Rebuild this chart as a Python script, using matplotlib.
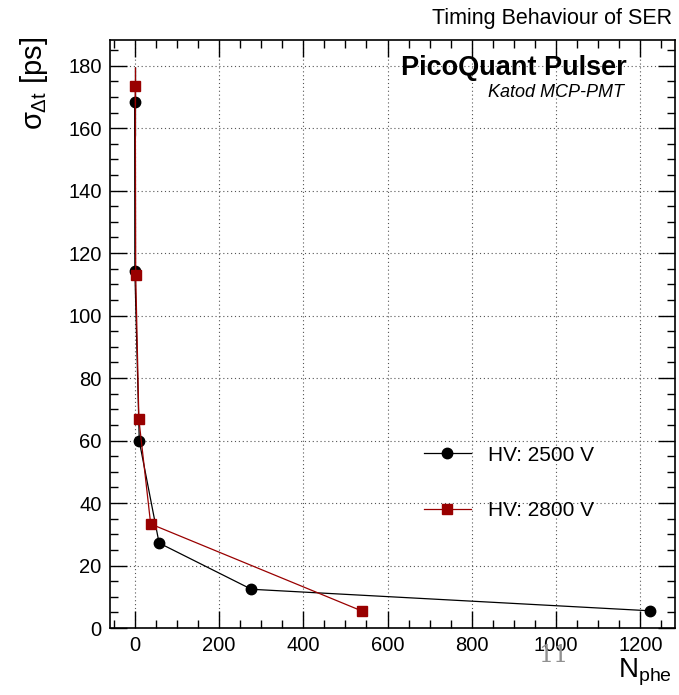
import matplotlib
matplotlib.use('Agg')
import matplotlib.pyplot as plt
from matplotlib.ticker import MultipleLocator

plt.rcParams['font.family'] = ['Liberation Sans', 'DejaVu Sans']
plt.rcParams['mathtext.fontset'] = 'custom'
plt.rcParams['mathtext.rm'] = 'Liberation Sans'
plt.rcParams['mathtext.it'] = 'Liberation Sans'

# data
nphe_2500 = [0, 0.5, 11, 58, 277, 1224]
sigma_2500 = [168.5, 114.3, 59.8, 27.2, 12.4, 5.5]
err_2500 = [11, 1.5, 0.8, 0.6, 0.4, 0.3]

nphe_2800 = [1.5, 2.5, 10, 38, 540]
sigma_2800 = [173.5, 113.0, 66.8, 33.3, 5.4]
err_2800 = [6, 1.5, 0.8, 0.6, 0.3]

red = '#990000'

fig = plt.figure(figsize=(6.79, 6.95), dpi=100)
ax = fig.add_axes([0.162, 0.0964, 0.832, 0.846])

# error bars without legend entry, then the lines with markers
ax.errorbar(nphe_2500, sigma_2500, yerr=err_2500, fmt='none', ecolor='black', lw=0.9, zorder=3)
ax.errorbar(nphe_2800, sigma_2800, yerr=err_2800, fmt='none', ecolor=red, lw=0.9, zorder=4)
ax.plot(nphe_2500, sigma_2500, color='black', lw=0.9, marker='o', markersize=7.5,
        label='HV: 2500 V', zorder=3)
ax.plot(nphe_2800, sigma_2800, color=red, lw=0.9, marker='s', markersize=7.5,
        label='HV: 2800 V', zorder=4)

ax.set_xlim(-58.5, 1282)
ax.set_ylim(0, 188.2)
ax.xaxis.set_major_locator(MultipleLocator(200))
ax.xaxis.set_minor_locator(MultipleLocator(50))
ax.yaxis.set_major_locator(MultipleLocator(20))
ax.yaxis.set_minor_locator(MultipleLocator(5))
ax.tick_params(which='both', direction='in', top=True, right=True, labelsize=14.5, pad=6)
ax.tick_params(which='major', length=12, width=1)
ax.tick_params(which='minor', length=6, width=1)
ax.grid(True, which='major', linestyle=(0, (1, 2.5)), color='#555555', lw=0.8)
for s in ax.spines.values():
    s.set_linewidth(1.2)

fig.text(0.05, 0.947, r'$\sigma_{\Delta t}$ [ps]', rotation=90, fontsize=21,
         ha='center', va='top')
fig.text(0.99, 0.01, r'N$_{\rm phe}$', fontsize=20, ha='right', va='bottom')
fig.text(0.99, 0.974, 'Timing Behaviour of SER', fontsize=15.5, ha='right', va='center')

ax.text(0.915, 0.952, 'PicoQuant Pulser', transform=ax.transAxes, fontsize=19.5,
        fontweight='bold', ha='right', va='center')
ax.text(0.91, 0.91, 'Katod MCP-PMT', transform=ax.transAxes, fontsize=13,
        fontstyle='italic', ha='right', va='center')

ax.legend(loc='upper left', bbox_to_anchor=(0.555, 0.31), frameon=False, fontsize=15,
          borderpad=0, borderaxespad=0, handlelength=2.3, handletextpad=0.8,
          labelspacing=1.75)

fig.text(0.815, 0.057, '11', fontsize=17, color='#909090', family='DejaVu Serif',
         ha='center', va='center')

fig.savefig('out.png', dpi=100)
